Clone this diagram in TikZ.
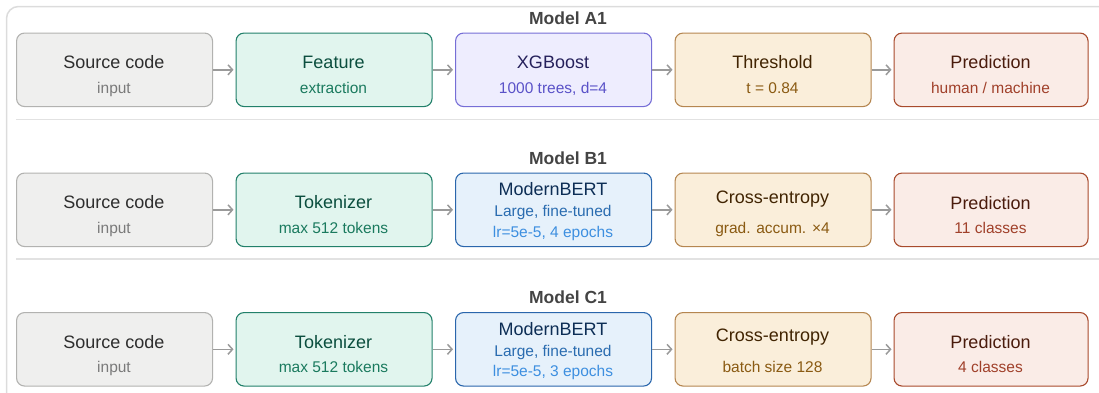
\documentclass[tikz,border=0pt]{standalone}
\usepackage{fontspec}
\setmainfont{Liberation Sans}
\usetikzlibrary{arrows.meta}
\definecolor{framegray}{HTML}{DCDCDC}
\definecolor{sepgray}{HTML}{E2E2E2}
\definecolor{arrowgray}{HTML}{9A9A9A}
\definecolor{titlegray}{HTML}{444444}
% gray
\definecolor{gfill}{HTML}{EFEFEE}
\definecolor{gdraw}{HTML}{B2B2B0}
\definecolor{gmain}{HTML}{2E2E2E}
\definecolor{gsub}{HTML}{7A7A7A}
% green
\definecolor{tfill}{HTML}{E1F5EE}
\definecolor{tdraw}{HTML}{22806A}
\definecolor{tmain}{HTML}{0B4E3E}
\definecolor{tsub}{HTML}{1A7A5E}
% purple
\definecolor{pfill}{HTML}{EEEDFE}
\definecolor{pdraw}{HTML}{766ED6}
\definecolor{pmain}{HTML}{26215C}
\definecolor{psub}{HTML}{5A52C8}
% orange
\definecolor{ofill}{HTML}{FAEEDA}
\definecolor{odraw}{HTML}{B58650}
\definecolor{omain}{HTML}{412402}
\definecolor{osub}{HTML}{8A5A12}
% red
\definecolor{rfill}{HTML}{FAECE7}
\definecolor{rdraw}{HTML}{A84A2C}
\definecolor{rmain}{HTML}{4A1B0C}
\definecolor{rsub}{HTML}{A0402A}
% blue
\definecolor{bfill}{HTML}{E6F1FB}
\definecolor{bdraw}{HTML}{2A66AC}
\definecolor{bmain}{HTML}{0C2D55}
\definecolor{bsubA}{HTML}{2A6CB0}
\definecolor{bsubB}{HTML}{3D8FE0}
\begin{document}
\begin{tikzpicture}[x=1pt,y=-1pt,
  box/.style={rounded corners=8pt, line width=1.1pt, minimum width=196pt, minimum height=73.5pt, anchor=north west, inner sep=0pt},
  lastbox/.style={box, minimum width=194pt},
  gbox/.style={box, draw=gdraw, fill=gfill},
  tbox/.style={box, draw=tdraw, fill=tfill},
  pbox/.style={box, draw=pdraw, fill=pfill},
  obox/.style={box, draw=odraw, fill=ofill},
  rbox/.style={lastbox, draw=rdraw, fill=rfill},
  bbox/.style={box, draw=bdraw, fill=bfill},
  mt/.style={anchor=base, inner sep=0pt, font=\fontsize{18}{20}\selectfont},
  st/.style={anchor=base, inner sep=0pt, font=\fontsize{15.5}{18}\selectfont},
  ttl/.style={anchor=base, inner sep=0pt, text=titlegray, font=\bfseries\fontsize{17.5}{20}\selectfont},
  arr/.style={draw=arrowgray, line width=1.5pt, -{Straight Barb[length=4.5pt,width=10pt]}},
  sepline/.style={draw=sepgray, line width=1.5pt}
]
\useasboundingbox (0,0) rectangle (1099,392);
\begin{scope}
\clip (0,0) rectangle (1099,392);
\draw[framegray, line width=1.5pt, rounded corners=12pt] (6.5,6.5) rectangle (1120,410);
\coordinate (s1a) at (16,119.5);
\coordinate (s1b) at (1110,119.5);
\coordinate (s2a) at (16,259);
\coordinate (s2b) at (1110,259);
\draw[sepline] (s1a) -- (s1b);
\draw[sepline] (s2a) -- (s2b);
\end{scope}

% ---------- Row A ----------
\node[ttl] (ta) at (568,24.5) {Model A1};
\node[gbox] (a1) at (16,32.5) {};
\node[tbox] (a2) at (235.5,32.5) {};
\node[pbox] (a3) at (455,32.5) {};
\node[obox] (a4) at (674.5,32.5) {};
\node[rbox] (a5) at (893.5,32.5) {};
\node[mt, text=gmain] (a1m) at (114,68.5) {Source code};
\node[st, text=gsub] (a1s) at (114,93) {input};
\node[mt, text=tmain] (a2m) at (333.5,68.5) {Feature};
\node[st, text=tsub] (a2s) at (333.5,93) {extraction};
\node[mt, text=pmain] (a3m) at (553,68.5) {XGBoost};
\node[st, text=psub] (a3s) at (553,93) {1000 trees, d=4};
\node[mt, text=omain] (a4m) at (772.5,68.5) {Threshold};
\node[st, text=osub] (a4s) at (772.5,93) {t = 0.84};
\node[mt, text=rmain] (a5m) at (990.5,68.5) {Prediction};
\node[st, text=rsub] (a5s) at (990.5,93) {human / machine};
\draw[arr] (a1.east) -- ([xshift=-2pt]a2.west);
\draw[arr] (a2.east) -- ([xshift=-2pt]a3.west);
\draw[arr] (a3.east) -- ([xshift=-2pt]a4.west);
\draw[arr] (a4.east) -- ([xshift=-2pt]a5.west);

% ---------- Row B ----------
\node[ttl] (tb) at (568,164) {Model B1};
\node[gbox] (b1) at (16,172.5) {};
\node[tbox] (b2) at (235.5,172.5) {};
\node[bbox] (b3) at (455,172.5) {};
\node[obox] (b4) at (674.5,172.5) {};
\node[rbox] (b5) at (893.5,172.5) {};
\node[mt, text=gmain] (b1m) at (114,208.5) {Source code};
\node[st, text=gsub] (b1s) at (114,233) {input};
\node[mt, text=tmain] (b2m) at (333.5,208.5) {Tokenizer};
\node[st, text=tsub] (b2s) at (333.5,233) {max 512 tokens};
\node[mt, text=bmain] (b3m) at (553,195.5) {ModernBERT};
\node[st, text=bsubA] (b3s) at (553,216.5) {Large, fine-tuned};
\node[st, text=bsubB] (b3t) at (553,237) {lr=5e-5, 4 epochs};
\node[mt, text=omain] (b4m) at (772.5,203) {Cross-entropy};
\node[st, text=osub] (b4s) at (772.5,233) {grad. accum. ×4};
\node[mt, text=rmain] (b5m) at (990.5,209) {Prediction};
\node[st, text=rsub] (b5s) at (990.5,233) {11 classes};
\draw[arr] (b1.east) -- ([xshift=-2pt]b2.west);
\draw[arr] (b2.east) -- ([xshift=-2pt]b3.west);
\draw[arr] (b3.east) -- ([xshift=-2pt]b4.west);
\draw[arr] (b4.east) -- ([xshift=-2pt]b5.west);

% ---------- Row C ----------
\node[ttl] (tc) at (568,303.5) {Model C1};
\node[gbox] (c1) at (16,312) {};
\node[tbox] (c2) at (235.5,312) {};
\node[bbox] (c3) at (455,312) {};
\node[obox] (c4) at (674.5,312) {};
\node[rbox] (c5) at (893.5,312) {};
\node[mt, text=gmain] (c1m) at (114,348) {Source code};
\node[st, text=gsub] (c1s) at (114,372.5) {input};
\node[mt, text=tmain] (c2m) at (333.5,348) {Tokenizer};
\node[st, text=tsub] (c2s) at (333.5,372.5) {max 512 tokens};
\node[mt, text=bmain] (c3m) at (553,335) {ModernBERT};
\node[st, text=bsubA] (c3s) at (553,356) {Large, fine-tuned};
\node[st, text=bsubB] (c3t) at (553,376.5) {lr=5e-5, 3 epochs};
\node[mt, text=omain] (c4m) at (772.5,341.5) {Cross-entropy};
\node[st, text=osub] (c4s) at (772.5,372.5) {batch size 128};
\node[mt, text=rmain] (c5m) at (990.5,348) {Prediction};
\node[st, text=rsub] (c5s) at (990.5,372.5) {4 classes};
\draw[arr] (c1.east) -- ([xshift=-2pt]c2.west);
\draw[arr] (c2.east) -- ([xshift=-2pt]c3.west);
\draw[arr] (c3.east) -- ([xshift=-2pt]c4.west);
\draw[arr] (c4.east) -- ([xshift=-2pt]c5.west);
\end{tikzpicture}
\end{document}
